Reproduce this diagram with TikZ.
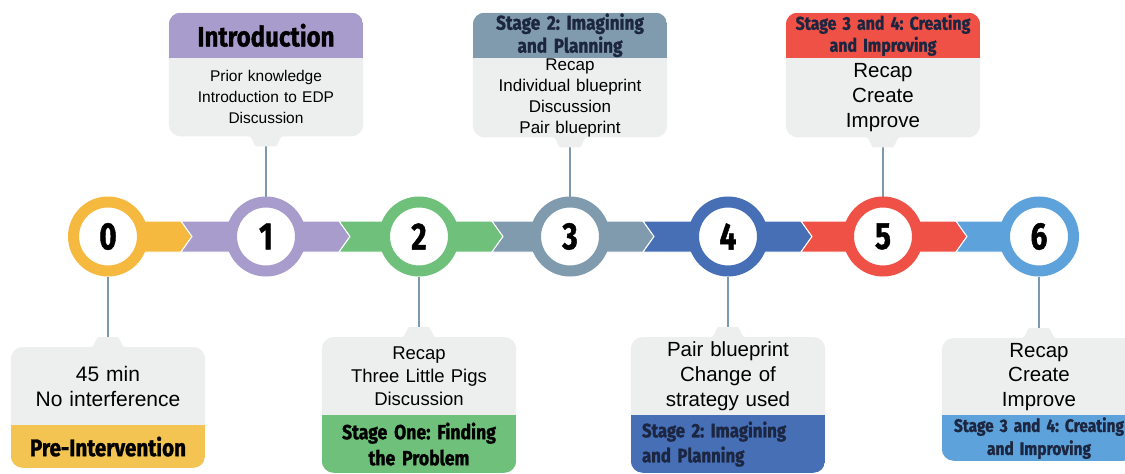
\documentclass[tikz,border=0pt]{standalone}
\usepackage{fontspec}
\setmainfont{Liberation Sans}
\newfontfamily\headfont{Fira Sans}[FakeStretch=0.86, FakeBold=1.2]
\newfontfamily\numfont{Fira Sans}[FakeStretch=0.78, FakeBold=1.2]
\usetikzlibrary{backgrounds}
\frenchspacing

\definecolor{stage0}{HTML}{F6B93F}
\definecolor{stage1}{HTML}{A79CCB}
\definecolor{stage2}{HTML}{6EC07A}
\definecolor{stage3}{HTML}{809BAE}
\definecolor{stage4}{HTML}{466FB6}
\definecolor{stage5}{HTML}{EF5146}
\definecolor{stage6}{HTML}{5DA2DA}
\definecolor{head0}{HTML}{F3C452}
\definecolor{boxgray}{HTML}{EDEFEF}
\definecolor{linkc}{HTML}{7B99AF}
\definecolor{navy}{HTML}{1C2640}

\tikzset{
  band/.style={fill=#1, draw=white, line width=1pt},
  stage/.style={circle, draw=#1, line width=11pt, fill=white, minimum size=69pt,
    inner sep=0pt, font=\numfont\bfseries\fontsize{38}{38}\selectfont},
  body/.style 2 args={text width=194pt, align=center, inner sep=0pt,
    font=\fontsize{#1}{#2}\selectfont},
  head/.style 2 args={text width=194pt, align=center, inner sep=0pt,
    font=\headfont\bfseries\fontsize{#1}{#2}\selectfont},
  link/.style={draw=linkc, line width=2pt},
}

\begin{document}
\begin{tikzpicture}[x=1pt, y=-1pt]
  \useasboundingbox (0,0) rectangle (1125,474);

  \foreach \a/\b/\c in {108/181/0, 181/339/1, 339/492/2, 492/643/3, 643/801/4, 801/956/5, 956/1039/6}
    \draw[band=stage\c] (\a,221) -- (\b,221) -- (\b+11,236.5) -- (\b,252) -- (\a,252) -- (\a+11,236.5) -- cycle;

  \foreach \i/\x in {0/108, 1/266, 2/419, 3/570, 4/728, 5/883, 6/1039}
    \node[stage=stage\i] (c\i) at (\x,236.5) {\i};

  % upper boxes
  \node[body={15.5}{21}, minimum height=78pt, anchor=north] (b1) at (266,58)
    {Prior knowledge\\Introduction to EDP\\Discussion};
  \node[head={28}{28}, minimum height=45pt, anchor=south] (h1) at (b1.north) {Introduction};

  \node[body={17}{21}, minimum height=79pt, anchor=north] (b3) at (570,58)
    {Recap\\Individual blueprint\\Discussion\\Pair blueprint};
  \node[head={20}{23}, minimum height=45pt, anchor=south, text=navy] (h3) at (b3.north)
    {Stage 2: Imagining\\and Planning};

  \node[body={20.5}{25}, minimum height=79pt, anchor=north] (b5) at (883,58)
    {Recap\\Create\\Improve};
  \node[head={18.5}{22}, minimum height=45pt, anchor=south, text=navy] (h5) at (b5.north)
    {Stage 3 and 4: Creating\\and Improving};

  % lower boxes
  \node[body={21}{25}, minimum height=78pt, anchor=north] (b0) at (108,347)
    {45 min\\No interference};
  \node[head={24}{24}, minimum height=42pt, anchor=north] (h0) at (b0.south) {Pre-Intervention};

  \node[body={18.5}{23}, minimum height=78pt, anchor=north] (b2) at (419,337)
    {Recap\\Three Little Pigs\\Discussion};
  \node[head={20.5}{26}, minimum height=57pt, anchor=north] (h2) at (b2.south)
    {Stage One: Finding\\the Problem};

  \node[body={20.5}{25}, minimum height=78pt, anchor=north] (b4) at (728,337)
    {Pair blueprint\\Change of\\strategy used};
  \node[head={19.5}{25}, minimum height=57pt, anchor=north, text=navy, align=left,
    text width=172pt, inner xsep=11pt] (h4) at (b4.south)
    {Stage 2: Imagining\\and Planning};

  \node[body={20.5}{24.5}, minimum height=77pt, anchor=north] (b6) at (1039,338)
    {Recap\\Create\\Improve};
  \node[head={18}{23}, minimum height=45pt, anchor=north, text=navy] (h6) at (b6.south)
    {Stage 3 and 4: Creating\\and Improving};

  \begin{scope}[on background layer]
    \fill[white] (0,0) rectangle (1125,474);
    \foreach \i in {0,...,6}
      \draw[link] (c\i) -- (b\i);
    \foreach \i/\hc in {1/stage1, 3/stage3, 5/stage5} {
      \fill[boxgray, rounded corners=12pt] (h\i.north west) rectangle (b\i.south east);
      \begin{scope}
        \clip[rounded corners=12pt] (h\i.north west) rectangle (b\i.south east);
        \fill[\hc] (h\i.north west) rectangle (h\i.south east);
      \end{scope}
      \fill[boxgray] (b\i.south) ++(-22,-1) .. controls +(10,0) and +(-6,-8) .. ++(12,11)
        -- ++(20,0) .. controls +(6,-8) and +(-10,0) .. ++(12,-11) -- cycle;
    }
    \foreach \i/\hc in {0/head0, 2/stage2, 4/stage4, 6/stage6} {
      \fill[boxgray, rounded corners=12pt] (b\i.north west) rectangle (h\i.south east);
      \begin{scope}
        \clip[rounded corners=12pt] (b\i.north west) rectangle (h\i.south east);
        \fill[\hc] (h\i.north west) rectangle (h\i.south east);
      \end{scope}
      \fill[boxgray] (b\i.north) ++(-22,1) .. controls +(10,0) and +(-6,8) .. ++(12,-11)
        -- ++(20,0) .. controls +(6,8) and +(-10,0) .. ++(12,11) -- cycle;
    }
  \end{scope}
\end{tikzpicture}
\end{document}
